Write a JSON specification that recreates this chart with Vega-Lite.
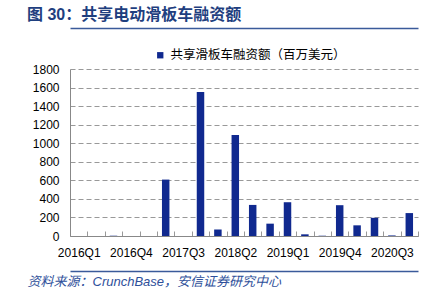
{
  "$schema": "https://vega.github.io/schema/vega-lite/v6.json",
  "width": 348,
  "height": 167,
  "autosize": "none",
  "padding": {"left": 70, "top": 69, "right": 27, "bottom": 55},
  "background": "white",
  "title": {
    "text": "图 30：共享电动滑板车融资额",
    "anchor": "start",
    "frame": "group",
    "dx": -43,
    "offset": -8,
    "baseline": "alphabetic",
    "fontSize": 16,
    "font": "Liberation Sans, Noto Sans CJK SC",
    "fontWeight": "bold",
    "color": "#1F3F7F"
  },
  "config": {"view": {"stroke": null}},
  "data": {
    "values": [
      {"q": "2016Q1", "v": 0},
      {"q": "2016Q2", "v": 0},
      {"q": "2016Q3", "v": 3},
      {"q": "2016Q4", "v": 0},
      {"q": "2017Q1", "v": 0},
      {"q": "2017Q2", "v": 608},
      {"q": "2017Q3", "v": 0},
      {"q": "2017Q4", "v": 1552},
      {"q": "2018Q1", "v": 70},
      {"q": "2018Q2", "v": 1089},
      {"q": "2018Q3", "v": 335},
      {"q": "2018Q4", "v": 133},
      {"q": "2019Q1", "v": 364},
      {"q": "2019Q2", "v": 18},
      {"q": "2019Q3", "v": 3},
      {"q": "2019Q4", "v": 332},
      {"q": "2020Q1", "v": 115},
      {"q": "2020Q2", "v": 196},
      {"q": "2020Q3", "v": 6},
      {"q": "2020Q4", "v": 247}
    ]
  },
  "layer": [
    {
      "mark": {"type": "bar", "width": {"band": 0.43}},
      "encoding": {
        "x": {
          "field": "q",
          "type": "ordinal",
          "sort": null,
          "scale": {"paddingInner": 0, "paddingOuter": 0},
          "axis": {
            "orient": "bottom",
            "title": null,
            "labelAngle": 0,
            "labelFontSize": 12,
            "labelFont": "Liberation Sans",
            "labelColor": "#000",
            "labelPadding": 16,
            "labelExpr": "indexof(['2016Q1','2016Q4','2017Q3','2018Q2','2019Q1','2019Q4','2020Q3'], datum.label) >= 0 ? datum.label : ''",
            "tickBand": "extent",
            "tickSize": -5,
            "tickColor": "#999",
            "domainColor": "#888",
            "grid": false
          }
        },
        "y": {
          "field": "v",
          "type": "quantitative",
          "scale": {"domain": [0, 1800], "nice": false},
          "axis": {
            "title": null,
            "format": "d",
            "values": [0, 200, 400, 600, 800, 1000, 1200, 1400, 1600, 1800],
            "labelFontSize": 12,
            "labelFont": "Liberation Sans",
            "labelColor": "#000",
            "labelPadding": 11,
            "ticks": false,
            "domainColor": "#888",
            "grid": true,
            "gridDash": [5, 3],
            "gridColor": "#999"
          }
        },
        "color": {
          "datum": "共享滑板车融资额（百万美元）",
          "scale": {"range": ["#10298F"]},
          "legend": {
            "orient": "none",
            "legendX": 84,
            "legendY": -20,
            "title": null,
            "symbolType": "square",
            "symbolSize": 40,
            "symbolStrokeWidth": 0,
            "labelFontSize": 12.5,
            "labelLimit": 300,
            "labelFont": "Noto Sans CJK SC",
            "labelColor": "#000"
          }
        }
      }
    },
    {
      "mark": {"type": "point", "opacity": 0},
      "encoding": {
        "x": {
          "field": "q",
          "type": "ordinal",
          "sort": null,
          "axis": {
            "orient": "top",
            "offset": 41,
            "labels": false,
            "ticks": false,
            "grid": false,
            "title": null,
            "domain": true,
            "domainColor": "#3A5A9A",
            "domainWidth": 1.5
          }
        }
      }
    },
    {
      "mark": {"type": "point", "opacity": 0},
      "encoding": {
        "x": {
          "field": "q",
          "type": "ordinal",
          "sort": null,
          "axis": {
            "orient": "bottom",
            "offset": 35,
            "labels": false,
            "ticks": false,
            "grid": false,
            "domainColor": "#3A5A9A",
            "domainWidth": 1.5,
            "title": "资料来源：CrunchBase，安信证券研究中心",
            "titleAnchor": "start",
            "titleAlign": "left",
            "titleX": -43,
            "titleY": 14,
            "titleBaseline": "alphabetic",
            "titleFontStyle": "italic",
            "titleFontWeight": "normal",
            "titleFontSize": 13,
            "titleFont": "Liberation Sans, Noto Sans CJK SC",
            "titleColor": "#2E4F9A"
          }
        }
      }
    }
  ],
  "resolve": {"axis": {"x": "independent"}}
}
